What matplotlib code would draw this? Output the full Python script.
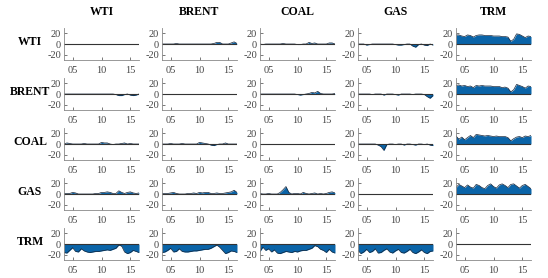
import numpy as np
import matplotlib
matplotlib.use('Agg')
import matplotlib.pyplot as plt

# 변수 이름
names = ['WTI', 'BRENT', 'COAL', 'GAS', 'TRM']

# 반년 단위 시점 (2003.5 ~ 2016.5)
years = np.arange(2003.5, 2016.51, 0.5)

# 행 -> 열 값 (눈으로 읽은 값)
wti_brent = [0, 0, 0, 0, 0, 1, 0, 0, 0, 0, 0, 0, 0, 0, 0, 0, 0, 0, 1, 3, 3, 0, 0, 0, 2, 4, 1]
wti_coal = [0, -1, 0, 0, 0, 0, 0, 0, 1, 0, 0, 0, 0, -1, -1, 0, 0, 3, 1, 2, 0, 0, 0, 0, 2, 2, 0]
wti_gas = [0, 0, 0, -2, -1, 0, 0, 0, 0, 0, 0, 0, 0, -1, -2, -2, -1, 0, 0, -4, -6, -1, 0, -2, -3, 0, -2]
wti_trm = [17, 17, 15, 14, 17, 16, 13, 16, 17, 17, 16, 16, 16, 15, 15, 15, 14, 14, 13, 5, 9, 19, 18, 15, 12, 15, 14]

brent_wti = [0, 0, 0, 0, 0, 0, 0, 0, 0, 0, 0, 0, 0, 0, 0, 0, 0, 0, -1, -3, -3, -1, 0, -2, -3, -2, 0]
brent_coal = [0, 0, 0, 0, 0, 0, 0, 0, 0, 0, 0, 0, 0, -1, -2, -1, 0, 1, 3, 2, 5, 1, 0, 0, 0, 0, 1]
brent_gas = [0, 0, 0, 0, 0, -1, 0, 0, 0, -2, 0, 0, 0, -1, -2, 0, 0, 0, 0, -1, 0, 0, 0, -1, -5, -8, -3]
brent_trm = [16, 17, 15, 16, 14, 15, 12, 16, 15, 16, 15, 15, 15, 14, 14, 14, 12, 13, 11, 4, 8, 18, 16, 14, 11, 15, 14]

coal_wti = [0, 2, 1, 0, 0, 0, 0, 1, 0, 0, 0, 0, 0, 3, 2, 2, 0, -1, 0, 0, 1, 2, 0, 1, 0, 0, 0]
coal_brent = [0, 0, 0, 1, 0, 0, 0, 1, 0, 0, 0, 0, 0, 3, 2, 1, 0, -2, -3, -1, 0, 0, 2, 0, 0, 0, 0]
coal_gas = [0, 0, 0, 0, 0, 0, 0, -2, -5, -12, -1, 0, 0, -1, 0, 0, -2, 0, 0, -1, -2, 0, 0, -1, 0, -2, -3]
coal_trm = [15, 9, 13, 8, 12, 16, 12, 18, 17, 16, 15, 16, 15, 14, 15, 14, 14, 14, 12, 6, 10, 13, 14, 12, 15, 14, 16]

gas_wti = [1, 1, 1, 3, 2, 0, 0, 0, 0, 0, 0, 1, 1, 3, 3, 4, 3, 1, 1, 6, 3, 1, 3, 4, 2, 1, 2]
gas_brent = [1, 1, 1, 2, 3, 1, 0, 0, 0, 1, 1, 2, 1, 3, 2, 3, 3, 1, 1, 2, 1, 1, 2, 3, 4, 7, 3]
gas_coal = [1, 0, 0, 1, 0, 0, 0, 3, 8, 14, 3, 0, 1, 1, 0, 3, 1, 0, 1, 2, 0, 1, 0, 1, 3, 4, 2]
gas_trm = [12, 18, 15, 12, 17, 13, 11, 18, 16, 12, 10, 16, 19, 14, 11, 17, 19, 16, 12, 18, 19, 15, 11, 16, 18, 14, 10]

trm_wti = [-16, -17, -12, -7, -14, -15, -9, -13, -15, -16, -15, -14, -14, -13, -12, -11, -12, -10, -8, -2, -4, -15, -18, -16, -12, -14, -16]
trm_brent = [-16, -15, -12, -8, -15, -14, -9, -14, -15, -15, -14, -13, -13, -12, -11, -10, -10, -8, -5, -2, -6, -12, -18, -16, -13, -14, -16]
trm_coal = [-14, -6, -12, -9, -15, -11, -17, -18, -16, -14, -15, -16, -14, -15, -13, -12, -12, -10, -8, -3, -5, -10, -12, -16, -10, -15, -17]
trm_gas = [-12, -18, -15, -10, -16, -14, -9, -17, -16, -12, -9, -15, -17, -13, -10, -16, -17, -14, -10, -16, -18, -15, -11, -16, -18, -14, -13]

series = {
    (0, 1): wti_brent, (0, 2): wti_coal, (0, 3): wti_gas, (0, 4): wti_trm,
    (1, 0): brent_wti, (1, 2): brent_coal, (1, 3): brent_gas, (1, 4): brent_trm,
    (2, 0): coal_wti, (2, 1): coal_brent, (2, 3): coal_gas, (2, 4): coal_trm,
    (3, 0): gas_wti, (3, 1): gas_brent, (3, 2): gas_coal, (3, 4): gas_trm,
    (4, 0): trm_wti, (4, 1): trm_brent, (4, 2): trm_coal, (4, 3): trm_gas,
}

plt.rcParams['font.family'] = ['Liberation Serif', 'DejaVu Serif']

W, H = 548, 278
fig = plt.figure(figsize=(W / 100, H / 100), dpi=100)

lefts = [64, 162, 260, 358, 456]
tops = [28, 78, 128, 178, 228]
aw, ah = 75, 32
blue = '#0a64a8'
gray = '#888888'

for i in range(5):
    for j in range(5):
        ax = fig.add_axes([lefts[j] / W, 1 - (tops[i] + ah) / H, aw / W, ah / H])
        if (i, j) in series:
            vals = np.array(series[(i, j)], dtype=float)
            ax.fill_between(years, 0, vals, color=blue, lw=0)
            ax.plot(years, vals, color='#15253a', lw=0.5)
        ax.axhline(0, color='#333333', lw=0.8)
        ax.set_xlim(2003.5, 2016.5)
        ax.set_ylim(-30, 30)
        ax.set_yticks([-20, 0, 20])
        ax.set_yticklabels(['-20', '0', '20'])
        ax.set_xticks([2005, 2010, 2015])
        ax.set_xticklabels(['05', '10', '15'])
        ax.tick_params(direction='in', length=2, width=0.5, labelsize=7.5,
                       colors='#444444')
        ax.tick_params(axis='x', pad=4)
        ax.tick_params(axis='y', pad=2)
        for s in ['top', 'right']:
            ax.spines[s].set_visible(False)
        for s in ['left', 'bottom']:
            ax.spines[s].set_color(gray)
            ax.spines[s].set_linewidth(0.6)
        if i == 0:
            ax.text(0.5, 1.3, names[j], transform=ax.transAxes, ha='center',
                    va='bottom', fontsize=8.5, fontweight='bold')
        if j == 0:
            fig.text(30 / W, 1 - (tops[i] + 14) / H, names[i], ha='center',
                     va='center', fontsize=8.5, fontweight='bold')

fig.savefig('out.png', dpi=100)
